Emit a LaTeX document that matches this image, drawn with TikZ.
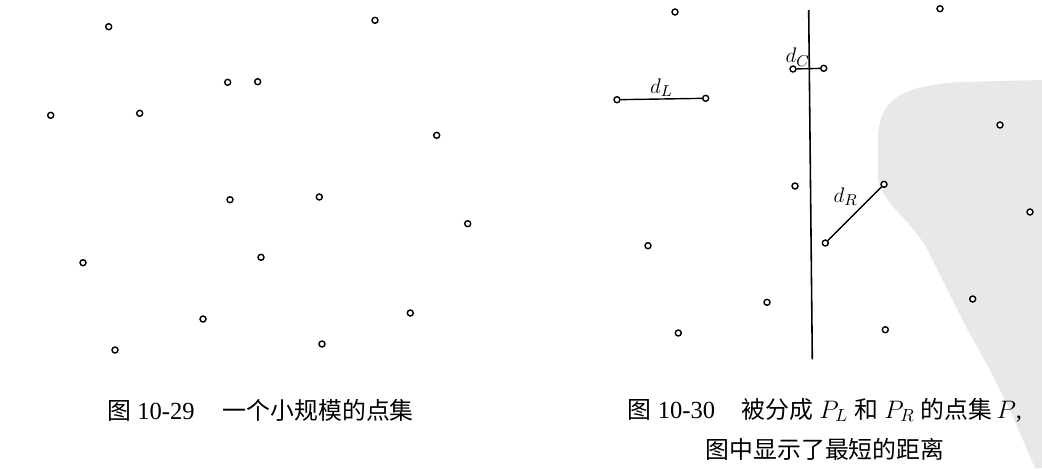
\documentclass[tikz,border=0pt]{standalone}
\usepackage{fontspec}
\setmainfont{Liberation Serif}
\newfontfamily\cjk[Scale=0.97]{Noto Sans CJK SC}
\tikzset{
  pt/.style={circle,draw,fill=white,inner sep=0pt,minimum size=0.12cm,line width=0.8pt},
  seg/.style={line width=0.8pt},
  dlab/.style={font=\fontsize{13}{15}\selectfont,inner sep=1pt},
  caption/.style={font=\fontsize{14}{22.7}\selectfont,inner sep=0pt}
}
\begin{document}
\begin{tikzpicture}[x=0.02cm,y=-0.02cm]
\useasboundingbox (0,0) rectangle (1042,468);
\fill[black!9] (1042,80) -- (960,82) .. controls (900,86) and (878,100) .. (878,140)
  -- (878,178) .. controls (880,200) and (905,215) .. (925,245)
  -- (945,285) -- (965,325) -- (990,370) -- (1010,410) -- (1035,468) -- (1042,468) -- cycle;
\node[pt] (a1) at (108.7,26.7) {};
\node[pt] (a2) at (375,20.3) {};
\node[pt] (a3) at (227.7,82.3) {};
\node[pt] (a4) at (257.7,81.7) {};
\node[pt] (a5) at (50.7,115.3) {};
\node[pt] (a6) at (139.7,113.3) {};
\node[pt] (a7) at (436.7,135.3) {};
\node[pt] (a8) at (230,199.7) {};
\node[pt] (a9) at (319.3,197) {};
\node[pt] (a10) at (467.7,223.7) {};
\node[pt] (a11) at (83,262.7) {};
\node[pt] (a12) at (261,257.3) {};
\node[pt] (a13) at (203,319) {};
\node[pt] (a14) at (410.3,313) {};
\node[pt] (a15) at (115,350) {};
\node[pt] (a16) at (322,344) {};
\coordinate (ltop) at (808.7,10);
\coordinate (lbot) at (812.3,359.3);
\draw[line width=0.9pt] (ltop) -- (lbot);
\node[pt] (b1) at (675,12) {};
\node[pt] (b2) at (940,8.7) {};
\node[pt] (bc1) at (793,69) {};
\node[pt] (bc2) at (823.7,68.3) {};
\node[pt] (bl1) at (617,99.7) {};
\node[pt] (bl2) at (705.7,98.3) {};
\node[pt] (b3) at (1000,125) {};
\node[pt] (b4) at (795,186) {};
\node[pt] (br1) at (884,184.3) {};
\node[pt] (br2) at (825.3,243) {};
\node[pt] (b5) at (1030,212) {};
\node[pt] (b6) at (648,245.7) {};
\node[pt] (b7) at (767,302.3) {};
\node[pt] (b8) at (972.7,299) {};
\node[pt] (b9) at (678.3,333) {};
\node[pt] (b10) at (885.3,329.7) {};
\draw[seg] (bl1) -- node[dlab,above] {$d_L$} (bl2);
\draw[seg] (bc1) -- node[dlab,pos=0.05,above] {$d_C$} (bc2);
\draw[seg] (br2) -- node[dlab,above left,pos=0.6] {$d_R$} (br1);
\node[caption,anchor=west] (cap1) at (107,410) {{\cjk 图} 10-29\hspace{16pt}{\cjk 一个小规模的点集}};
\node[caption,align=center] (cap2) at (825,429) {{\cjk 图} 10-30\hspace{15pt}{\cjk 被分成} $P_L$ {\cjk 和} $P_R$ {\cjk 的点集}$\,P$,\\{\cjk 图中显示了最短的距离}};
\end{tikzpicture}
\end{document}
